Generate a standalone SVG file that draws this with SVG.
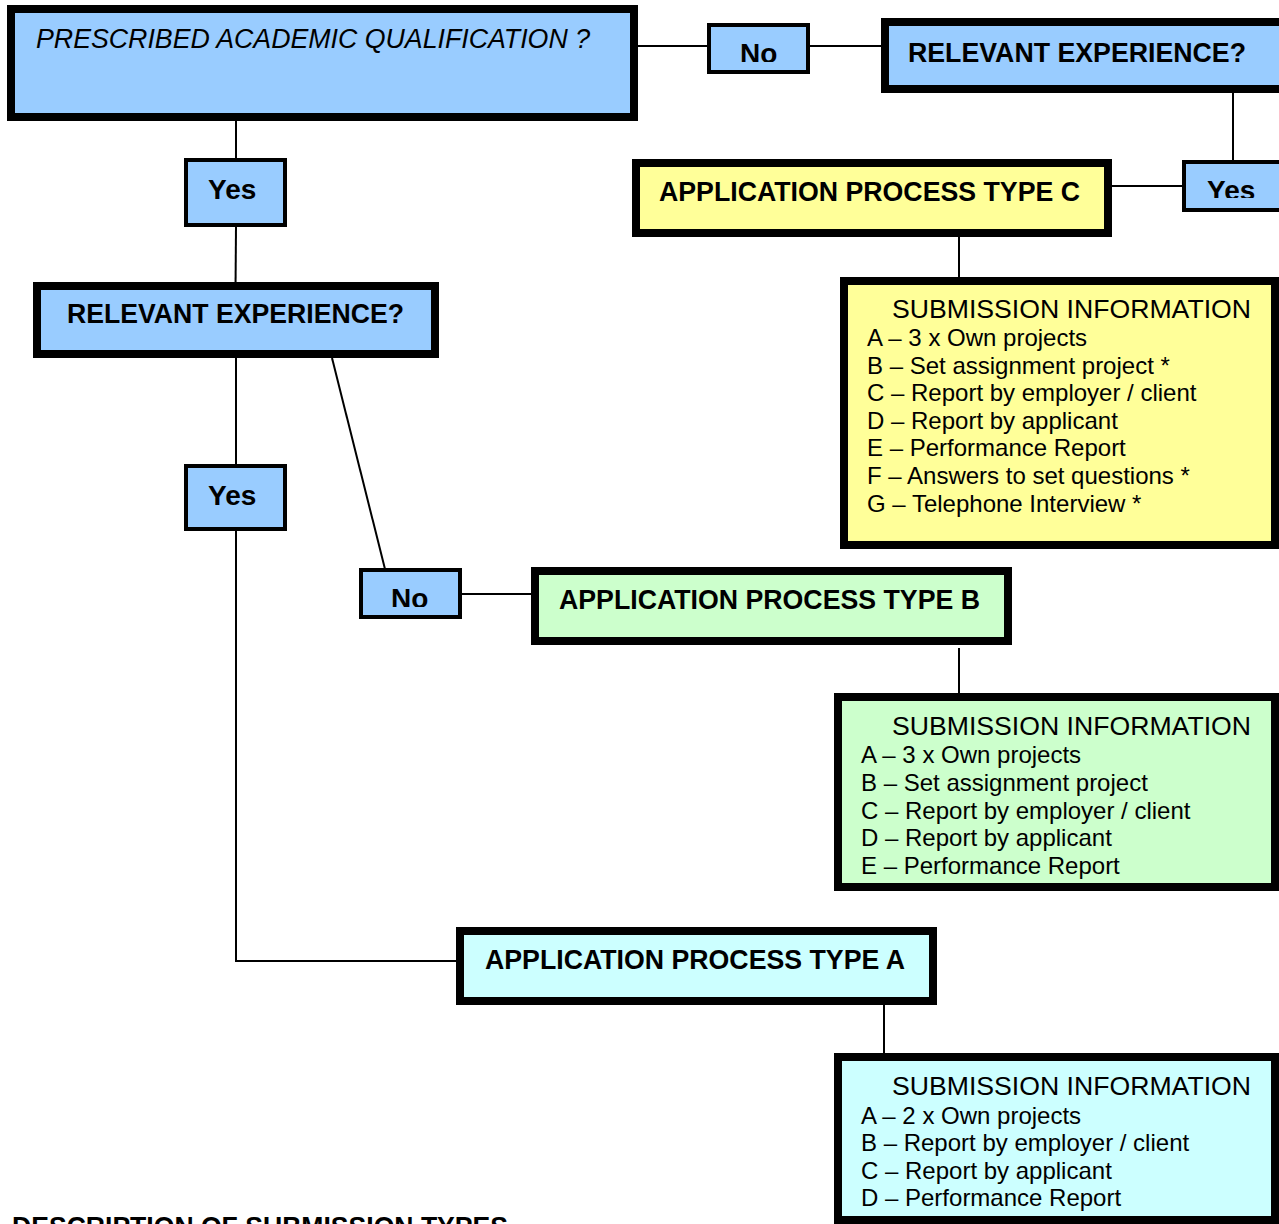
<svg xmlns="http://www.w3.org/2000/svg" width="1279" height="1224" viewBox="0 0 1279 1224">
<style>
  text { font-family: "Liberation Sans", Arial, sans-serif; fill: #000; }
  .thick { stroke: #000; stroke-width: 8; }
  .thin { stroke: #000; stroke-width: 4; }
  .blue { fill: #99ccff; }
  .yellow { fill: #ffff99; }
  .green { fill: #ccffcc; }
  .cyan { fill: #ccffff; }
  .title { font-weight: bold; font-size: 27px; }
  .label { font-weight: bold; font-size: 28px; }
  .q { font-style: italic; font-size: 27px; }
  .head { font-size: 26px; }
  .item { font-size: 24px; }
  .conn line, .conn polyline { stroke: #000; stroke-width: 2; fill: none; }
</style>
<defs>
  <clipPath id="clipNo1"><rect x="700" y="0" width="120" height="62"/></clipPath>
  <clipPath id="clipNo2"><rect x="350" y="560" width="120" height="47"/></clipPath>
  <clipPath id="clipYes3"><rect x="1180" y="150" width="100" height="48"/></clipPath>
</defs>
<rect width="1279" height="1224" fill="#fff"/>

<g class="conn" id="connectors">
  <line x1="638" y1="46" x2="708" y2="46"/>
  <line x1="810" y1="46" x2="882" y2="46"/>
  <line x1="1233" y1="93" x2="1233" y2="161"/>
  <line x1="1112" y1="186" x2="1183" y2="186"/>
  <line x1="959" y1="237" x2="959" y2="278"/>
  <line x1="236" y1="121" x2="236" y2="158"/>
  <line x1="236" y1="227" x2="235.5" y2="291"/>
  <line x1="236" y1="358" x2="236" y2="465"/>
  <line x1="332" y1="358" x2="385" y2="569"/>
  <polyline points="236,531 236,961 457,961"/>
  <line x1="462" y1="594" x2="532" y2="594"/>
  <line x1="959" y1="648" x2="959" y2="694"/>
  <line x1="884" y1="1005" x2="884" y2="1054"/>
</g>

<g id="q-academic">
  <rect class="thick blue" x="11" y="9" width="623" height="108"/>
  <text class="q" x="36" y="48" textLength="554" lengthAdjust="spacingAndGlyphs">PRESCRIBED ACADEMIC QUALIFICATION ?</text>
</g>

<g id="no-top">
  <rect class="thin blue" x="709" y="25" width="99" height="47"/>
  <text class="label" x="740" y="63" clip-path="url(#clipNo1)">No</text>
</g>

<g id="q-exp-right">
  <rect class="thick blue" x="885" y="22" width="410" height="67"/>
  <text class="title" x="908" y="62" textLength="338" lengthAdjust="spacingAndGlyphs">RELEVANT EXPERIENCE?</text>
</g>

<g id="yes-right">
  <rect class="thin blue" x="1184" y="162" width="110" height="48"/>
  <text class="label" x="1207" y="200" clip-path="url(#clipYes3)">Yes</text>
</g>

<g id="type-c">
  <rect class="thick yellow" x="636" y="163" width="472" height="70"/>
  <text class="title" x="659" y="201" textLength="421" lengthAdjust="spacingAndGlyphs">APPLICATION PROCESS TYPE C</text>
</g>

<g id="sub-c">
  <rect class="thick yellow" x="844" y="281" width="431" height="264"/>
  <text class="head" x="892" y="318" textLength="359" lengthAdjust="spacingAndGlyphs">SUBMISSION INFORMATION</text>
  <text class="item" x="867" y="346">A – 3 x Own projects</text>
  <text class="item" x="867" y="374">B – Set assignment project *</text>
  <text class="item" x="867" y="401">C – Report by employer / client</text>
  <text class="item" x="867" y="429">D – Report by applicant</text>
  <text class="item" x="867" y="456">E – Performance Report</text>
  <text class="item" x="867" y="484">F – Answers to set questions *</text>
  <text class="item" x="867" y="512">G – Telephone Interview *</text>
</g>

<g id="yes-1">
  <rect class="thin blue" x="186" y="160" width="99" height="65"/>
  <text class="label" x="208" y="199">Yes</text>
</g>

<g id="q-exp-left">
  <rect class="thick blue" x="37" y="286" width="398" height="68"/>
  <text class="title" x="67" y="323" textLength="337" lengthAdjust="spacingAndGlyphs">RELEVANT EXPERIENCE?</text>
</g>

<g id="yes-2">
  <rect class="thin blue" x="186" y="466" width="99" height="63"/>
  <text class="label" x="208" y="505">Yes</text>
</g>

<g id="no-mid">
  <rect class="thin blue" x="361" y="570" width="99" height="47"/>
  <text class="label" x="391" y="608" clip-path="url(#clipNo2)">No</text>
</g>

<g id="type-b">
  <rect class="thick green" x="535" y="571" width="473" height="70"/>
  <text class="title" x="559" y="609" textLength="421" lengthAdjust="spacingAndGlyphs">APPLICATION PROCESS TYPE B</text>
</g>

<g id="sub-b">
  <rect class="thick green" x="838" y="697" width="437" height="190"/>
  <text class="head" x="892" y="735" textLength="359" lengthAdjust="spacingAndGlyphs">SUBMISSION INFORMATION</text>
  <text class="item" x="861" y="763">A – 3 x Own projects</text>
  <text class="item" x="861" y="791">B – Set assignment project</text>
  <text class="item" x="861" y="819">C – Report by employer / client</text>
  <text class="item" x="861" y="846">D – Report by applicant</text>
  <text class="item" x="861" y="874">E – Performance Report</text>
</g>

<g id="type-a">
  <rect class="thick cyan" x="460" y="931" width="473" height="70"/>
  <text class="title" x="485" y="969" textLength="420" lengthAdjust="spacingAndGlyphs">APPLICATION PROCESS TYPE A</text>
</g>

<g id="sub-a">
  <rect class="thick cyan" x="838" y="1057" width="437" height="163"/>
  <text class="head" x="892" y="1095" textLength="359" lengthAdjust="spacingAndGlyphs">SUBMISSION INFORMATION</text>
  <text class="item" x="861" y="1124">A – 2 x Own projects</text>
  <text class="item" x="861" y="1151">B – Report by employer / client</text>
  <text class="item" x="861" y="1179">C – Report by applicant</text>
  <text class="item" x="861" y="1206">D – Performance Report</text>
</g>

<text class="title" x="12" y="1236" textLength="496" lengthAdjust="spacingAndGlyphs">DESCRIPTION OF SUBMISSION TYPES</text>
</svg>
